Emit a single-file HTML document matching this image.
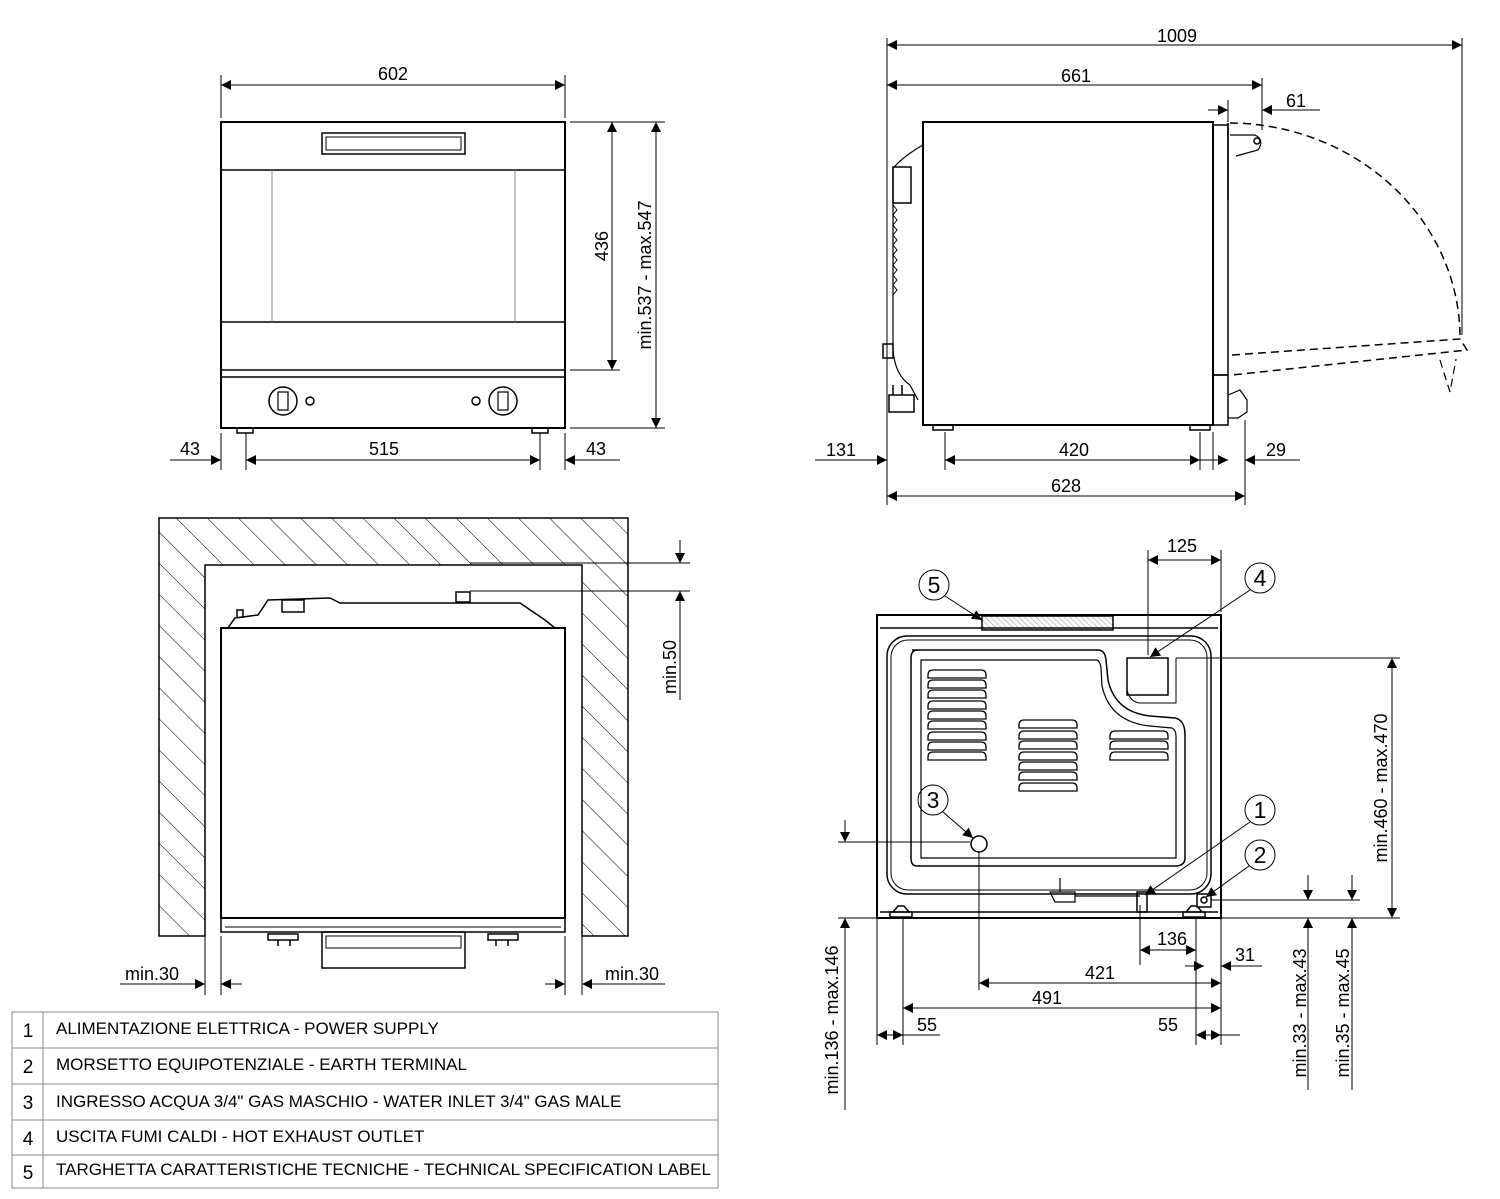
<!DOCTYPE html>
<html><head><meta charset="utf-8"><style>
html,body{margin:0;padding:0;background:#fff}
svg{display:block}
text{font-family:"Liberation Sans",sans-serif;fill:#000}
</style></head><body>
<svg width="1500" height="1199" viewBox="0 0 1500 1199" xmlns="http://www.w3.org/2000/svg">
<defs>
<pattern id="h" width="22" height="22" patternUnits="userSpaceOnUse" patternTransform="rotate(-45)">
<line x1="0" y1="0" x2="0" y2="22" stroke="#000" stroke-width="1"/></pattern>
<pattern id="h2" width="4" height="4" patternUnits="userSpaceOnUse" patternTransform="rotate(-45)">
<line x1="0" y1="0" x2="0" y2="4" stroke="#999" stroke-width="1"/></pattern>
<marker id="a" viewBox="0 0 10 10" refX="10" refY="5" markerWidth="14" markerHeight="10" markerUnits="userSpaceOnUse" orient="auto-start-reverse"><path d="M0,0L10,5L0,10z" fill="#000"/></marker>
</defs>
<g stroke="#000" fill="none" stroke-width="1.5">
<rect x="221" y="122" width="344" height="306" stroke-width="2"/>
<rect x="322" y="133" width="143" height="21"/>
<rect x="326" y="137" width="135" height="13" stroke-width="1"/>
<line x1="221" y1="170" x2="565" y2="170"/>
<line x1="221" y1="322" x2="565" y2="322"/>
<line x1="272" y1="170" x2="272" y2="322" stroke="#888" stroke-width="1"/>
<line x1="515" y1="170" x2="515" y2="322" stroke="#888" stroke-width="1"/>
<line x1="221" y1="370" x2="565" y2="370"/>
<line x1="221" y1="377" x2="565" y2="377"/>
<circle cx="283" cy="401" r="14"/><rect x="278" y="392" width="10" height="18" stroke-width="1.2"/>
<circle cx="503" cy="401" r="14"/><rect x="498" y="392" width="10" height="18" stroke-width="1.2"/>
<circle cx="310" cy="401" r="4"/><circle cx="476" cy="401" r="4"/>
<rect x="237" y="428" width="16" height="5"/><rect x="532" y="428" width="16" height="5"/>
</g>
<g stroke="#000" stroke-width="1" fill="none">
<line x1="221" y1="75" x2="221" y2="118"/><line x1="565" y1="75" x2="565" y2="118"/>
<line x1="221" y1="85" x2="565" y2="85" marker-start="url(#a)" marker-end="url(#a)"/>
<line x1="570" y1="122" x2="665" y2="122"/><line x1="570" y1="370" x2="620" y2="370"/><line x1="570" y1="428" x2="665" y2="428"/>
<line x1="612" y1="122" x2="612" y2="370" marker-start="url(#a)" marker-end="url(#a)"/>
<line x1="656" y1="122" x2="656" y2="428" marker-start="url(#a)" marker-end="url(#a)"/>
<line x1="221" y1="433" x2="221" y2="470"/><line x1="246" y1="433" x2="246" y2="470"/><line x1="540" y1="433" x2="540" y2="470"/><line x1="565" y1="433" x2="565" y2="470"/>
<line x1="170" y1="460" x2="221" y2="460" marker-end="url(#a)"/>
<line x1="246" y1="460" x2="540" y2="460" marker-start="url(#a)" marker-end="url(#a)"/>
<line x1="565" y1="460" x2="620" y2="460" marker-start="url(#a)"/>
</g>
<text x="393" y="80" font-size="18" text-anchor="middle">602</text>
<text x="190" y="455" font-size="18" text-anchor="middle">43</text>
<text x="384" y="455" font-size="18" text-anchor="middle">515</text>
<text x="596" y="455" font-size="18" text-anchor="middle">43</text>
<text transform="translate(608,246) rotate(-90)" font-size="18" text-anchor="middle">436</text>
<text transform="translate(651,275) rotate(-90)" font-size="18" text-anchor="middle">min.537 - max.547</text>

<g stroke="#000" fill="none" stroke-width="1.5">
<rect x="923" y="122" width="290" height="303" stroke-width="2"/>
<rect x="1213" y="125" width="15" height="250"/>
<rect x="1213" y="375" width="15" height="50"/>
<path d="M1228,123 V200"/>
<path d="M1230,135 L1255,135 Q1265,140 1258,150 L1236,156" stroke-width="1.2"/>
<circle cx="1257" cy="141" r="3"/>
<path d="M1228,395 L1240,390 L1247,400 L1247,412 L1238,418 L1228,418" stroke-width="1.2"/>
<path d="M923,145 Q905,155 893,168 L893,350 Q895,375 910,385 L918,400" stroke-width="1.2"/>
<rect x="893" y="167" width="18" height="36"/>
<path d="M893,205 l4,5 l-4,5 l4,5 l-4,5 l4,5 l-4,5 l4,5 l-4,5 l4,5 l-4,5 l4,5 l-4,5 l4,5 l-4,5 l4,5 l-4,5 l4,5 l-4,5" stroke-width="1"/>
<rect x="883" y="344" width="10" height="14"/>
<rect x="889" y="395" width="25" height="17"/>
<path d="M893,385 v10 M902,385 v10" />
<rect x="933" y="425" width="20" height="5"/><rect x="1190" y="425" width="20" height="5"/>
</g>
<g stroke="#000" stroke-width="1.5" fill="none" stroke-dasharray="8,5">
<path d="M1230,123 A232,215 0 0 1 1460,335"/>
<path d="M1232,355 L1460,339 L1467,350 L1232,375"/>
<path d="M1440,360 L1450,392 L1456,359" stroke-width="1.2"/>
</g>
<g stroke="#000" stroke-width="1" fill="none">
<line x1="887" y1="38" x2="887" y2="505"/><line x1="1462" y1="38" x2="1462" y2="335"/>
<line x1="887" y1="45" x2="1462" y2="45" marker-start="url(#a)" marker-end="url(#a)"/>
<line x1="1262" y1="78" x2="1262" y2="130"/>
<line x1="887" y1="85" x2="1262" y2="85" marker-start="url(#a)" marker-end="url(#a)"/>
<line x1="1228" y1="100" x2="1228" y2="122"/>
<line x1="1208" y1="110" x2="1228" y2="110" marker-end="url(#a)"/>
<line x1="1262" y1="110" x2="1320" y2="110" marker-start="url(#a)"/>
<line x1="945" y1="432" x2="945" y2="470"/><line x1="1200" y1="432" x2="1200" y2="470"/>
<line x1="1213" y1="432" x2="1213" y2="470"/><line x1="1245" y1="420" x2="1245" y2="505"/>
<line x1="815" y1="460" x2="887" y2="460" marker-end="url(#a)"/>
<line x1="945" y1="460" x2="1200" y2="460" marker-start="url(#a)" marker-end="url(#a)"/>
<line x1="1195" y1="460" x2="1228" y2="460" marker-end="url(#a)"/>
<line x1="1245" y1="460" x2="1300" y2="460" marker-start="url(#a)"/>
<line x1="887" y1="496" x2="1245" y2="496" marker-start="url(#a)" marker-end="url(#a)"/>
</g>
<text x="1177" y="42" font-size="18" text-anchor="middle">1009</text>
<text x="1076" y="82" font-size="18" text-anchor="middle">661</text>
<text x="1296" y="107" font-size="18" text-anchor="middle">61</text>
<text x="841" y="456" font-size="18" text-anchor="middle">131</text>
<text x="1074" y="456" font-size="18" text-anchor="middle">420</text>
<text x="1276" y="456" font-size="18" text-anchor="middle">29</text>
<text x="1066" y="492" font-size="18" text-anchor="middle">628</text>

<g stroke="#000" stroke-width="1.5">
<path d="M159,518 H628 V936 H582 V565 H205 V936 H159 Z" fill="url(#h)"/>
</g>
<g stroke="#000" fill="none" stroke-width="1.5">
<rect x="221" y="628" width="344" height="290" stroke-width="2"/>
<path d="M228,628 L235,618 L258,615 L268,600 L330,598 L340,603 L520,603 L545,620 L555,628"/>
<rect x="282" y="600" width="22" height="12"/>
<rect x="456" y="592" width="14" height="10"/>
<path d="M237,618 v-8 h6 v8"/>
<rect x="221" y="918" width="344" height="14"/>
<line x1="225" y1="927" x2="561" y2="927" stroke-width="1"/>
<rect x="322" y="932" width="143" height="36"/>
<rect x="326" y="936" width="135" height="12" stroke-width="1"/>
<path d="M268,934 h30 v6 h-30z M278,940 v6 M290,940 v6"/>
<path d="M488,934 h30 v6 h-30z M496,940 v6 M508,940 v6"/>
</g>
<g stroke="#000" stroke-width="1" fill="none">
<line x1="470" y1="563" x2="690" y2="563"/><line x1="470" y1="591" x2="690" y2="591"/>
<line x1="680" y1="540" x2="680" y2="563" marker-end="url(#a)"/>
<line x1="680" y1="591" x2="680" y2="700" marker-start="url(#a)"/>
<line x1="205" y1="936" x2="205" y2="995"/><line x1="221" y1="936" x2="221" y2="995"/>
<line x1="565" y1="936" x2="565" y2="995"/><line x1="582" y1="936" x2="582" y2="995"/>
<line x1="120" y1="984" x2="205" y2="984" marker-end="url(#a)"/>
<line x1="221" y1="984" x2="242" y2="984" marker-start="url(#a)"/>
<line x1="545" y1="984" x2="565" y2="984" marker-end="url(#a)"/>
<line x1="582" y1="984" x2="665" y2="984" marker-start="url(#a)"/>
</g>
<text x="152" y="980" font-size="18" text-anchor="middle">min.30</text>
<text x="632" y="980" font-size="18" text-anchor="middle">min.30</text>
<text transform="translate(676,667) rotate(-90)" font-size="18" text-anchor="middle">min.50</text>

<g stroke="#888" stroke-width="1" fill="none">
<rect x="12" y="1012" width="706" height="176"/>
<line x1="43" y1="1012" x2="43" y2="1188"/>
<line x1="12" y1="1048" x2="718" y2="1048"/><line x1="12" y1="1084" x2="718" y2="1084"/>
<line x1="12" y1="1120" x2="718" y2="1120"/><line x1="12" y1="1155" x2="718" y2="1155"/>
</g>
<g font-size="19" text-anchor="middle">
<text x="28" y="1037">1</text><text x="28" y="1073">2</text><text x="28" y="1109">3</text><text x="28" y="1145">4</text><text x="28" y="1179">5</text>
</g>
<g font-size="17">
<text x="56" y="1034">ALIMENTAZIONE ELETTRICA - POWER SUPPLY</text>
<text x="56" y="1070">MORSETTO EQUIPOTENZIALE - EARTH TERMINAL</text>
<text x="56" y="1107">INGRESSO ACQUA 3/4" GAS MASCHIO - WATER INLET 3/4" GAS MALE</text>
<text x="56" y="1142">USCITA FUMI CALDI - HOT EXHAUST OUTLET</text>
<text x="56" y="1175">TARGHETTA CARATTERISTICHE TECNICHE - TECHNICAL SPECIFICATION LABEL</text>
</g>

<g stroke="#000" fill="none" stroke-width="1.5">
<rect x="877" y="615" width="344" height="303" stroke-width="2"/>
<rect x="982" y="616" width="131" height="14" fill="url(#h2)"/>
<path d="M880,628 H1218 M880,912 H1218"/>
<rect x="887" y="636" width="324" height="258" rx="20"/>
<rect x="891" y="640" width="316" height="250" rx="17" stroke-width="1"/>
<path d="M912,650 H1098 Q1105,650 1106,660 L1108,680 Q1115,712 1150,716 L1175,718 Q1185,720 1185,735 V858 Q1185,866 1175,866 H917 Q911,866 911,858 V658 Q911,650 918,650 Z"/>
<path d="M921,660 H1096 Q1100,660 1101,668 L1102,686 Q1110,722 1150,726 L1172,728 Q1176,730 1176,736 V858 H921 Z" stroke-width="1.2"/>
<rect x="1127" y="658" width="41" height="37"/><path d="M1127,690 Q1130,702 1140,703 H1176 V658" stroke-width="1"/>
<circle cx="979" cy="844" r="8"/>
<rect x="1137" y="892" width="10" height="20"/>
<path d="M1050,892 h25 v10 h-20 z M1060,878 v14 M1075,896 H1140" stroke-width="1.2"/>
<rect x="1197" y="894" width="14" height="13"/><circle cx="1204" cy="900" r="3"/>
<path d="M893,912 l5,-6 h6 l5,6 M890,912 h22 v5 h-22z"/>
<path d="M1186,912 l5,-6 h6 l5,6 M1183,912 h22 v5 h-22z"/>
</g>
<g stroke="#000" stroke-width="1.3" fill="none">
<path d="M928,678 v-3 q0,-5 5,-5 h48 q5,0 5,5 v3 z"/>
<path d="M928,688 v-3 q0,-5 5,-5 h48 q5,0 5,5 v3 z"/>
<path d="M928,698 v-3 q0,-5 5,-5 h48 q5,0 5,5 v3 z"/>
<path d="M928,709 v-3 q0,-5 5,-5 h48 q5,0 5,5 v3 z"/>
<path d="M928,719 v-3 q0,-5 5,-5 h48 q5,0 5,5 v3 z"/>
<path d="M928,729 v-3 q0,-5 5,-5 h48 q5,0 5,5 v3 z"/>
<path d="M928,740 v-3 q0,-5 5,-5 h48 q5,0 5,5 v3 z"/>
<path d="M928,750 v-3 q0,-5 5,-5 h48 q5,0 5,5 v3 z"/>
<path d="M928,760 v-3 q0,-5 5,-5 h48 q5,0 5,5 v3 z"/>
<path d="M1019,728 v-3 q0,-5 5,-5 h48 q5,0 5,5 v3 z"/>
<path d="M1019,739 v-3 q0,-5 5,-5 h48 q5,0 5,5 v3 z"/>
<path d="M1019,749 v-3 q0,-5 5,-5 h48 q5,0 5,5 v3 z"/>
<path d="M1019,760 v-3 q0,-5 5,-5 h48 q5,0 5,5 v3 z"/>
<path d="M1019,770 v-3 q0,-5 5,-5 h48 q5,0 5,5 v3 z"/>
<path d="M1019,780 v-3 q0,-5 5,-5 h48 q5,0 5,5 v3 z"/>
<path d="M1019,791 v-3 q0,-5 5,-5 h48 q5,0 5,5 v3 z"/>
<path d="M1110,739 v-3 q0,-5 5,-5 h48 q5,0 5,5 v3 z"/>
<path d="M1110,749 v-3 q0,-5 5,-5 h48 q5,0 5,5 v3 z"/>
<path d="M1110,760 v-3 q0,-5 5,-5 h48 q5,0 5,5 v3 z"/>
</g>
<g stroke="#000" stroke-width="1" fill="none">
<circle cx="934" cy="585" r="15"/><circle cx="1260" cy="578" r="15"/><circle cx="933" cy="800" r="15"/><circle cx="1260" cy="810" r="15"/><circle cx="1260" cy="855" r="15"/>
<line x1="945" y1="596" x2="982" y2="620" marker-end="url(#a)"/>
<line x1="1250" y1="590" x2="1150" y2="657" marker-end="url(#a)"/>
<line x1="943" y1="812" x2="973" y2="838" marker-end="url(#a)"/>
<line x1="1250" y1="822" x2="1145" y2="895" marker-end="url(#a)"/>
<line x1="1249" y1="866" x2="1206" y2="897" marker-end="url(#a)"/>
<line x1="1148" y1="550" x2="1148" y2="655"/><line x1="1221" y1="550" x2="1221" y2="612"/>
<line x1="1148" y1="560" x2="1221" y2="560" marker-start="url(#a)" marker-end="url(#a)"/>
<line x1="1176" y1="658" x2="1400" y2="658"/><line x1="1221" y1="918" x2="1400" y2="918"/>
<line x1="1392" y1="658" x2="1392" y2="918" marker-start="url(#a)" marker-end="url(#a)"/>
<line x1="1211" y1="900" x2="1360" y2="900"/>
<line x1="1308" y1="875" x2="1308" y2="900" marker-end="url(#a)"/>
<line x1="1308" y1="918" x2="1308" y2="1090" marker-start="url(#a)"/>
<line x1="1352" y1="875" x2="1352" y2="900" marker-end="url(#a)"/>
<line x1="1352" y1="918" x2="1352" y2="1090" marker-start="url(#a)"/>
<line x1="838" y1="842" x2="970" y2="842"/><line x1="838" y1="918" x2="877" y2="918"/>
<line x1="845" y1="820" x2="845" y2="842" marker-end="url(#a)"/>
<line x1="845" y1="918" x2="845" y2="1110" marker-start="url(#a)"/>
<line x1="979" y1="852" x2="979" y2="990"/>
<line x1="877" y1="918" x2="877" y2="1045"/><line x1="903" y1="918" x2="903" y2="1045"/>
<line x1="1140" y1="905" x2="1140" y2="965"/><line x1="1196" y1="918" x2="1196" y2="1045"/>
<line x1="1221" y1="918" x2="1221" y2="1045"/>
<line x1="1140" y1="950" x2="1196" y2="950" marker-start="url(#a)" marker-end="url(#a)"/>
<line x1="1185" y1="966" x2="1204" y2="966" marker-end="url(#a)"/>
<line x1="1221" y1="966" x2="1262" y2="966" marker-start="url(#a)"/>
<line x1="979" y1="983" x2="1221" y2="983" marker-start="url(#a)" marker-end="url(#a)"/>
<line x1="903" y1="1008" x2="1221" y2="1008" marker-start="url(#a)" marker-end="url(#a)"/>
<line x1="877" y1="1035" x2="903" y2="1035" marker-start="url(#a)" marker-end="url(#a)"/>
<line x1="1196" y1="1035" x2="1221" y2="1035" marker-start="url(#a)" marker-end="url(#a)"/>
<line x1="903" y1="1035" x2="940" y2="1035"/><line x1="1221" y1="1035" x2="1240" y2="1035"/>
</g>
<g font-size="23" text-anchor="middle">
<text x="934" y="593">5</text><text x="1260" y="586">4</text><text x="933" y="808">3</text><text x="1260" y="818">1</text><text x="1260" y="863">2</text>
</g>
<g font-size="18" text-anchor="middle">
<text x="1182" y="552">125</text>
<text x="1172" y="945">136</text>
<text x="1245" y="961">31</text>
<text x="1100" y="979">421</text>
<text x="1047" y="1004">491</text>
<text x="927" y="1031">55</text>
<text x="1168" y="1031">55</text>
</g>
<text transform="translate(1387,788) rotate(-90)" font-size="18" text-anchor="middle">min.460 - max.470</text>
<text transform="translate(838,1020) rotate(-90)" font-size="18" text-anchor="middle">min.136 - max.146</text>
<text transform="translate(1306,1013) rotate(-90)" font-size="18" text-anchor="middle">min.33 - max.43</text>
<text transform="translate(1349,1013) rotate(-90)" font-size="18" text-anchor="middle">min.35 - max.45</text>
</svg>
</body></html>
